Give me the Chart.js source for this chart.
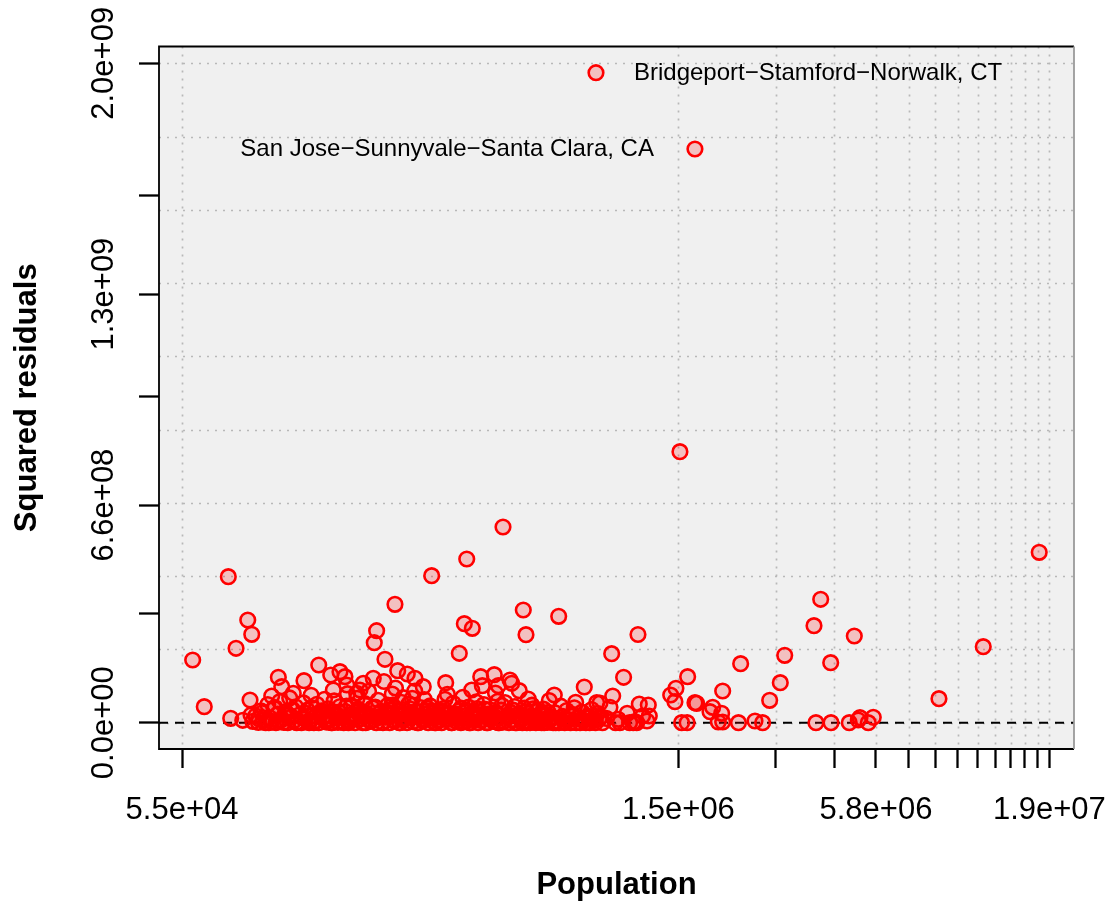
<!DOCTYPE html>
<html>
<head>
<meta charset="utf-8">
<title>Squared residuals by population</title>
<script src="https://cdn.jsdelivr.net/npm/chart.js@4.4.1/dist/chart.umd.min.js"></script>
<style>
  html, body { margin: 0; padding: 0; background: #ffffff; }
  canvas { display: block; }
</style>
</head>
<body>
<canvas id="residualChart" width="1112" height="903"></canvas>
<script>
// === Metro areas: population vs squared residual ===
// same order in both arrays
const population = [
  // larger residuals
  1556000, 17358000, 474400, 371900, 293900, 75040, 4003000, 229700, 543600, 689500,
  85500, 365900, 3827000, 386100, 203100, 87820, 1174000, 553600, 5016000, 199900,
  11921000, 79040, 353800, 984000, 3144000, 214800, 59070, 4281000, 2339000, 137700,
  // middle band
  233970, 158800, 249530, 447470, 149250, 164200, 408500, 1638600, 104990, 1066000,
  262730, 198560, 497170, 124700, 3052000, 322920, 502890, 185670, 166250, 412950,
  459630, 107420, 277770, 818700, 1514800, 151870, 384550, 181600, 529200, 2073000,
  116060, 177600, 225580, 669400, 1462400, 100430, 990700, 242900, 258060, 8855000,
  562170, 321400, 86820, 2842000, 457830, 1504700, 772760, 890000, 1721000, 909700,
  1741000, 1184400, 1258200, 63850, 1938700, 972800, 1903900, 1092200, 2059000, 87400,
  1266700, 1211000, 915800, 5698000, 5211000, 76260, 1028000, 5152000, 82680, 2575000,
  1247400, 2013000, 2073000, 1137600, 1164000, 1040000, 1573900, 1633000, 2305000, 2711000,
  3878000, 4290000, 4849000, 5510000,
  // small metros, 88k - 121k
  88500, 90200, 91800, 93500, 95000, 96400, 97800, 99100, 100500, 101900,
  103300, 104600, 106000, 107400, 108900, 110300, 111800, 113300, 114800, 116300,
  117900, 119500, 121000,
  // 122k - 180k
  122600, 124200, 125800, 127500, 129100, 130800, 132500, 134200, 136000, 137700,
  139500, 141300, 143100, 145000, 146900, 148800, 150700, 152700, 154700, 156700,
  158700, 160700, 162800, 164900, 167000, 169200, 171400, 173600, 175800, 178100,
  180400,
  // 182k - 310k
  182700, 185100, 187500, 189900, 192400, 194900, 197400, 200000, 202600, 205200,
  207900, 210600, 213300, 216100, 218900, 221700, 224600, 227500, 230500, 233500,
  236500, 239600, 242700, 245900, 249100, 252300, 255600, 258900, 262300, 265700,
  269100, 272600, 276200, 279800, 283400, 287100, 290800, 294600, 298400, 302300,
  306200, 310200,
  // 314k - 527k
  314200, 318300, 322400, 326600, 330800, 335100, 339500, 343900, 348400, 352900,
  357500, 362100, 366800, 371600, 376400, 381300, 386300, 391300, 396400, 401500,
  406800, 412000, 417400, 422800, 428300, 433900, 439500, 445200, 451000, 456900,
  462800, 468800, 474900, 481100, 487300, 493700, 500100, 506600, 513100, 519800,
  526500,
  // 533k - 894k
  533400, 540300, 547300, 554400, 561600, 568900, 576300, 583800, 591400, 599100,
  606900, 614800, 622800, 630900, 639100, 647400, 655800, 664300, 673000, 681700,
  690600, 699500, 708600, 717800, 727200, 736600, 746200, 755900, 765700, 775700,
  785700, 796000, 806300, 816800, 827400, 838200, 849100, 860100, 871300, 882700,
  894100,
  // around one million
  925000, 950000, 1010000, 1110000, 1150000,
  // more metros sitting close to zero
  92000, 98500, 105300, 112500, 118700, 123400, 128300, 133300, 138600, 144000,
  149700, 155700, 161700, 168100, 174700, 181500, 188700, 196100, 203800, 211900,
  220200, 228900, 237900, 247300, 257000, 267100, 277700, 288600, 300000, 311800,
  324100, 336900, 350200, 364000, 378300, 393200, 408700, 424800, 441600, 459000,
  477100, 495900, 515400, 535700, 556800, 578800, 601600, 625300, 650000, 675600,
  // small metros a little above zero
  94300, 102700, 109600, 115600, 126600, 131500, 140400, 147800, 157700, 165900,
  172500, 179200, 186300, 193600, 201300, 209200, 217500, 226000, 235000, 244300,
  253900, 264000, 274400, 285200, 296500, 316300, 340200, 367500, 398000, 431500,
  // mid-sized metros a little above zero
  305000, 313000, 328000, 345000, 358000, 373000, 389000, 404000, 419000, 436000,
  453000, 471000, 489000, 508000, 524000, 538000, 551000, 566000, 581000, 596000,
  611000, 627000, 643000, 660000, 720000, 760000, 800000, 845000, 880000, 905000,
  135000, 152000, 170000, 190000, 208000, 222000, 240000, 256000, 270000, 284000
];

const sqResidual = [
  8.22e8, 5.168e8, 5.936e8, 4.965e8, 4.459e8, 4.428e8, 3.743e8, 3.591e8, 3.418e8, 3.227e8,
  3.115e8, 3.003e8, 2.942e8, 2.863e8, 2.790e8, 2.681e8, 2.675e8, 2.669e8, 2.630e8, 2.426e8,
  2.305e8, 2.257e8, 2.105e8, 2.093e8, 2.044e8, 1.923e8, 1.902e8, 1.820e8, 1.790e8, 1.750e8,

  1.577e8, 1.547e8, 1.477e8, 1.456e8, 1.447e8, 1.395e8, 1.395e8, 1.395e8, 1.377e8, 1.377e8,
  1.347e8, 1.347e8, 1.295e8, 1.274e8, 1.213e8, 1.213e8, 1.195e8, 1.195e8, 1.143e8, 1.122e8,
  1.122e8, 1.092e8, 1.092e8, 1.083e8, 1.043e8, 9.92e7, 9.92e7, 9.92e7, 9.71e7, 9.61e7,
  8.92e7, 8.92e7, 8.70e7, 8.40e7, 8.40e7, 8.10e7, 8.10e7, 7.58e7, 7.40e7, 7.28e7,
  7.19e7, 7.10e7, 6.89e7, 6.79e7, 6.49e7, 6.37e7, 6.19e7, 6.07e7, 6.07e7, 5.98e7,
  5.88e7, 5.67e7, 5.37e7, 4.85e7, 4.67e7, 4.67e7, 3.34e7, 2.85e7, 2.85e7, 2.34e7,
  2.03e7, 2.03e7, 1.82e7, 1.64e7, 1.52e7, 1.33e7, 1.03e7, 8.2e6, 7.3e6, 5.2e6,
  5.2e6, 2.1e6, 2.1e6, 0, 0, 0, 0, 0, 0, 0,
  0, 0, 0, 0,

  4.0e6, 2.1e7, 1.0e6, 3.6e7, 8.0e6, 0, 5.5e7, 1.5e7, 3.0e6, 4.4e7,
  0, 2.6e7, 6.4e7, 9.0e6, 1.2e6, 3.3e7, 0, 7.5e7, 1.8e7, 5.0e6,
  4.8e7, 2.0e6, 2.4e7,

  0, 6.0e7, 1.1e7, 3.8e7, 0, 8.3e7, 2.2e7, 5.0e6, 5.6e7, 0,
  3.0e7, 1.4e7, 7.1e7, 2.0e6, 4.2e7, 9.0e6, 0, 6.6e7, 2.7e7, 1.0e6,
  4.9e7, 1.6e7, 0, 3.4e7, 8.8e7, 6.0e6, 5.2e7, 2.0e7, 0, 7.4e7,
  3.9e7,

  1.2e7, 0, 5.8e7, 2.5e7, 9.5e7, 4.0e6, 4.5e7, 1.0e7, 0, 6.8e7,
  3.1e7, 1.5e6, 1.25e8, 1.7e7, 5.3e7, 0, 3.7e7, 8.0e6, 1.05e8, 2.3e7,
  0, 6.2e7, 4.0e7, 1.3e7, 0, 5.7e7, 2.9e7, 3.0e6, 9.6e7, 1.9e7,
  0, 4.6e7, 1.0e7, 7.0e7, 2.6e7, 0, 5.1e7, 1.4e7, 3.5e7, 0,
  6.0e6, 2.2e7,

  0, 4.3e7, 1.1e7, 8.6e7, 2.8e7, 0, 5.9e7, 1.6e7, 3.0e6, 3.6e7,
  0, 7.7e7, 2.1e7, 5.0e6, 4.7e7, 0, 2.9e7, 1.2e7, 6.3e7, 0,
  3.3e7, 8.0e6, 5.5e7, 1.8e7, 0, 4.0e7, 2.4e7, 4.0e6, 9.0e7, 1.4e7,
  0, 3.8e7, 2.0e6, 6.1e7, 1.9e7, 0, 3.1e7, 1.0e7, 4.9e7, 0,
  2.6e7,

  1.3e7, 0, 4.4e7, 6.0e6, 2.8e7, 0, 5.3e7, 1.7e7, 0, 3.5e7,
  8.0e6, 0, 4.1e7, 2.2e7, 1.0e6, 6.7e7, 1.2e7, 0, 3.0e7, 4.0e6,
  0, 5.0e7, 1.9e7, 0, 3.7e7, 9.0e6, 0, 2.5e7, 4.5e7, 0,
  1.5e7, 0, 3.2e7, 6.0e6, 0, 2.0e7, 0, 4.0e7, 1.1e7, 0,
  2.8e7,

  0, 1.3e7, 0, 0, 3.0e6,

  1.2e7, 0, 6.0e6, 2.3e7, 0, 1.5e7, 3.0e6, 0, 2.7e7, 8.0e6,
  0, 1.9e7, 4.0e6, 0, 1.1e7, 2.4e7, 0, 7.0e6, 1.6e7, 0,
  2.9e7, 5.0e6, 0, 1.2e7, 2.0e7, 0, 6.0e6, 1.7e7, 0, 9.0e6,
  2.5e7, 0, 1.3e7, 3.0e6, 0, 2.1e7, 7.0e6, 0, 1.5e7, 0,
  4.0e6, 2.2e7, 0, 1.0e7, 0, 1.8e7, 2.0e6, 0, 1.1e7, 0,

  3.0e7, 4.6e7, 2.4e7, 3.9e7, 2.8e7, 4.5e7, 3.6e7, 2.2e7, 3.2e7, 5.0e7,
  2.6e7, 4.1e7, 3.0e7, 2.0e7, 4.7e7, 3.4e7, 2.5e7, 5.3e7, 3.8e7, 2.7e7,
  4.2e7, 3.3e7, 2.1e7, 4.4e7, 2.9e7, 3.5e7, 2.4e7, 3.1e7, 4.3e7, 2.6e7,

  1.8e7, 3.6e7, 1.0e7, 2.7e7, 4.4e7, 1.5e7, 3.2e7, 2.1e7, 4.1e7, 1.2e7,
  3.0e7, 5.2e7, 1.7e7, 3.8e7, 2.3e7, 1.0e7, 3.4e7, 1.9e7, 4.2e7, 1.4e7,
  2.6e7, 1.0e7, 3.1e7, 1.6e7, 1.3e7, 2.0e7, 1.0e7, 1.5e7, 8.0e6, 1.2e7,
  1.9e7, 3.3e7, 1.4e7, 2.8e7, 1.7e7, 3.9e7, 1.1e7, 2.5e7, 1.8e7, 3.6e7
];

// labelled outliers
const namedAreas = ["Bridgeport−Stamford−Norwalk, CT", "San Jose−Sunnyvale−Santa Clara, CA"];
const namedPopulation = [885600, 1720800];
const namedResidual = [1.9715e9, 1.7401e9];
const namedSide = ["right", "left"];

// axes
const xTickValues = [55000, 1540000, 2960000, 4380000, 5800000, 7220000, 8640000,
  10060000, 11480000, 12900000, 14320000, 15740000, 17160000, 18580000];
const xTickLabels = ["5.5e+04", "1.5e+06", "", "", "5.8e+06", "", "", "", "", "", "", "", "", "1.9e+07"];
const yTickValues = [0, 3.3e8, 6.6e8, 9.9e8, 1.3e9, 1.6e9, 2.0e9];
const yTickLabels = ["0.0e+00", "", "6.6e+08", "", "1.3e+09", "", "2.0e+09"];
const yGridValues = [0, 2.222e8, 4.444e8, 6.667e8, 8.889e8, 1.1111e9, 1.3333e9, 1.5556e9, 1.7778e9, 2.0e9];

const FONT = '"Liberation Sans", Arial, Helvetica, sans-serif';

// === Panel background, dotted grid, zero line ===
const panelPlugin = {
  id: "panel",
  beforeDraw(chart) {
    const { ctx, chartArea: a, scales: { x, y } } = chart;
    ctx.save();
    ctx.fillStyle = "#f0f0f0";
    ctx.fillRect(a.left, a.top, a.right - a.left, a.bottom - a.top);

    ctx.strokeStyle = "#b8b8b8";
    ctx.lineWidth = 1.7;
    ctx.setLineDash([2, 6]);
    ctx.beginPath();
    xTickValues.forEach(v => {
      const px = Math.round(x.getPixelForValue(v)) + 0.5;
      ctx.moveTo(px, a.top);
      ctx.lineTo(px, a.bottom);
    });
    yGridValues.forEach(v => {
      const py = Math.round(y.getPixelForValue(v)) + 0.5;
      ctx.moveTo(a.left, py);
      ctx.lineTo(a.right, py);
    });
    ctx.stroke();
    ctx.restore();
  },
  beforeDatasetsDraw(chart) {
    const { ctx, chartArea: a, scales: { y } } = chart;
    const y0 = y.getPixelForValue(0);
    ctx.save();
    ctx.strokeStyle = "#000";
    ctx.lineWidth = 2;
    ctx.setLineDash([9, 7]);
    ctx.beginPath();
    ctx.moveTo(a.left, y0);
    ctx.lineTo(a.right, y0);
    ctx.stroke();
    ctx.restore();
  },
  afterDraw(chart) {
    const { ctx, chartArea: a, scales: { x, y } } = chart;
    ctx.save();

    // frame
    ctx.lineWidth = 1.8;
    ctx.strokeStyle = "#000";
    ctx.beginPath();
    ctx.moveTo(a.right, a.top);
    ctx.lineTo(a.left, a.top);
    ctx.lineTo(a.left, a.bottom);
    ctx.lineTo(a.right, a.bottom);
    ctx.stroke();
    ctx.strokeStyle = "#9a9a9a";
    ctx.beginPath();
    ctx.moveTo(a.right, a.top);
    ctx.lineTo(a.right, a.bottom);
    ctx.stroke();

    // tick labels
    ctx.fillStyle = "#000";
    ctx.font = `31px ${FONT}`;
    ctx.textAlign = "center";
    ctx.textBaseline = "alphabetic";
    xTickValues.forEach((v, i) => {
      if (xTickLabels[i]) ctx.fillText(xTickLabels[i], x.getPixelForValue(v), a.bottom + 70);
    });
    yTickValues.forEach((v, i) => {
      if (!yTickLabels[i]) return;
      ctx.save();
      ctx.translate(a.left - 46, y.getPixelForValue(v));
      ctx.rotate(-Math.PI / 2);
      ctx.fillText(yTickLabels[i], 0, 0);
      ctx.restore();
    });

    // axis titles
    ctx.font = `bold 31px ${FONT}`;
    ctx.fillText("Population", (a.left + a.right) / 2, 894);
    ctx.save();
    ctx.translate(36, (a.top + a.bottom) / 2);
    ctx.rotate(-Math.PI / 2);
    ctx.fillText("Squared residuals", 0, 0);
    ctx.restore();

    // names next to the outliers
    ctx.font = `24px ${FONT}`;
    namedAreas.forEach((name, i) => {
      const px = x.getPixelForValue(namedPopulation[i]);
      const py = y.getPixelForValue(namedResidual[i]);
      if (namedSide[i] === "right") {
        ctx.textAlign = "left";
        ctx.fillText(name, px + 38, py + 7);
      } else {
        ctx.textAlign = "right";
        ctx.fillText(name, px - 41, py + 7);
      }
    });
    ctx.restore();
  }
};

const pointStyle = {
  pointRadius: 7.3,
  pointHoverRadius: 7.3,
  pointBorderWidth: 2.6,
  borderWidth: 2.6,
  pointBorderColor: "#ff0000",
  borderColor: "#ff0000",
  pointBackgroundColor: "rgba(255, 0, 0, 0.2)",
  backgroundColor: "rgba(255, 0, 0, 0.2)"
};

const ctx = document.getElementById("residualChart").getContext("2d");

new Chart(ctx, {
  type: "scatter",
  data: {
    datasets: [
      {
        label: "Metro areas",
        data: population.map((p, i) => ({ x: p, y: sqResidual[i] })),
        ...pointStyle
      },
      {
        label: "Labelled",
        data: namedPopulation.map((p, i) => ({ x: p, y: namedResidual[i] })),
        ...pointStyle
      }
    ]
  },
  options: {
    responsive: false,
    animation: false,
    events: [],
    devicePixelRatio: 1,
    layout: { padding: { top: 46.5, right: 38, bottom: 0, left: 0 } },
    plugins: {
      legend: { display: false },
      tooltip: { enabled: false }
    },
    scales: {
      x: {
        type: "logarithmic",
        min: 47120,
        max: 21923000,
        afterBuildTicks: s => { s.ticks = xTickValues.map(v => ({ value: v })); },
        afterFit: s => { s.height = 154; },
        ticks: { display: false },
        grid: { drawOnChartArea: false, drawTicks: true, tickLength: 19, tickWidth: 2.3, tickColor: "#000" },
        border: { display: false }
      },
      y: {
        type: "linear",
        min: -7.98e7,
        max: 2.051e9,
        afterBuildTicks: s => { s.ticks = yTickValues.map(v => ({ value: v })); },
        afterFit: s => { s.width = 159; },
        ticks: { display: false },
        grid: { drawOnChartArea: false, drawTicks: true, tickLength: 20, tickWidth: 2.3, tickColor: "#000" },
        border: { display: false }
      }
    }
  },
  plugins: [panelPlugin]
});
</script>
</body>
</html>
